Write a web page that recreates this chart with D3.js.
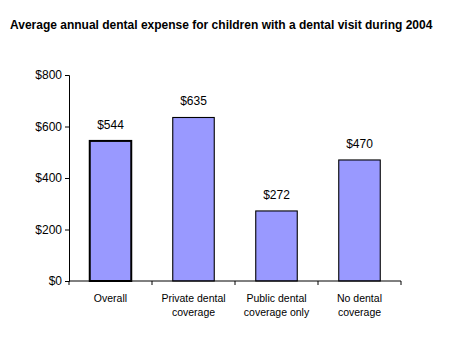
<!DOCTYPE html>
<html>
<head>
<meta charset="utf-8">
<script src="https://cdn.jsdelivr.net/npm/d3@7"></script>
<style>
  body { margin: 0; background: #fff; }
  svg { font-family: Arial, "Liberation Sans", sans-serif; }
</style>
</head>
<body>
<div id="chart"></div>
<script>
const categories = [
    ['Overall'],
    ['Private dental', 'coverage'],
    ['Public dental', 'coverage only'],
    ['No dental', 'coverage']
];
const expenses = [544, 635, 272, 470];
const yTicks = [0, 200, 400, 600, 800];
const title = 'Average annual dental expense for children with a dental visit during 2004';

const width = 463, height = 350;
const margin = { top: 75, right: 62, bottom: 69, left: 69 };
const innerW = width - margin.left - margin.right;
const innerH = height - margin.top - margin.bottom;

const svg = d3.select('#chart')
    .append('svg')
    .attr('width', width)
    .attr('height', height);

svg.append('text')
    .attr('x', 10)
    .attr('y', 29)
    .attr('font-size', '12px')
    .attr('font-weight', 'bold')
    .attr('fill', '#000')
    .text(title);

const plot = svg.append('g')
    .attr('transform', `translate(${margin.left},${margin.top})`);

const x = d3.scaleBand()
    .domain(d3.range(categories.length))
    .range([0, innerW])
    .paddingInner(0.5)
    .paddingOuter(0.25);

const y = d3.scaleLinear()
    .domain([0, 800])
    .range([innerH, 0]);

// bars (first one outlined heavier, as in the original)
plot.selectAll('.bar')
    .data(expenses)
    .join('rect')
    .attr('class', 'bar')
    .attr('x', (d, i) => x(i))
    .attr('y', d => y(d))
    .attr('width', x.bandwidth())
    .attr('height', d => innerH - y(d))
    .attr('fill', '#9999ff')
    .attr('stroke', '#000')
    .attr('stroke-width', (d, i) => i === 0 ? 2 : 1.1);

// value labels
plot.selectAll('.val')
    .data(expenses)
    .join('text')
    .attr('class', 'val')
    .attr('x', (d, i) => x(i) + x.bandwidth() / 2)
    .attr('y', d => y(d) - 12)
    .attr('text-anchor', 'middle')
    .attr('font-size', '12px')
    .attr('fill', '#000')
    .text(d => '$' + d);

// y axis
const yAxis = plot.append('g')
    .call(d3.axisLeft(y).tickValues(yTicks).tickSize(4).tickPadding(3).tickFormat(d => '$' + d));
yAxis.select('.domain').attr('stroke', '#000');
yAxis.selectAll('text').attr('font-size', '12px').attr('fill', '#000').attr('font-family', null);

// x axis with ticks at category boundaries
const step = x.step();
const xAxis = plot.append('g')
    .attr('transform', `translate(0,${innerH})`);
xAxis.append('line')
    .attr('x1', 0).attr('x2', innerW)
    .attr('stroke', '#000');
xAxis.selectAll('.xtick')
    .data(d3.range(categories.length + 1))
    .join('line')
    .attr('class', 'xtick')
    .attr('x1', i => i * step).attr('x2', i => i * step)
    .attr('y1', 0).attr('y2', 4)
    .attr('stroke', '#000');

const labels = xAxis.selectAll('.xlab')
    .data(categories)
    .join('text')
    .attr('class', 'xlab')
    .attr('x', (d, i) => x(i) + x.bandwidth() / 2)
    .attr('y', 21)
    .attr('text-anchor', 'middle')
    .attr('font-size', '10.5px')
    .attr('fill', '#000');
labels.selectAll('tspan')
    .data(d => d)
    .join('tspan')
    .attr('x', function () { return d3.select(this.parentNode).attr('x'); })
    .attr('dy', (d, i) => i === 0 ? 0 : 14)
    .text(d => d);
</script>
</body>
</html>
